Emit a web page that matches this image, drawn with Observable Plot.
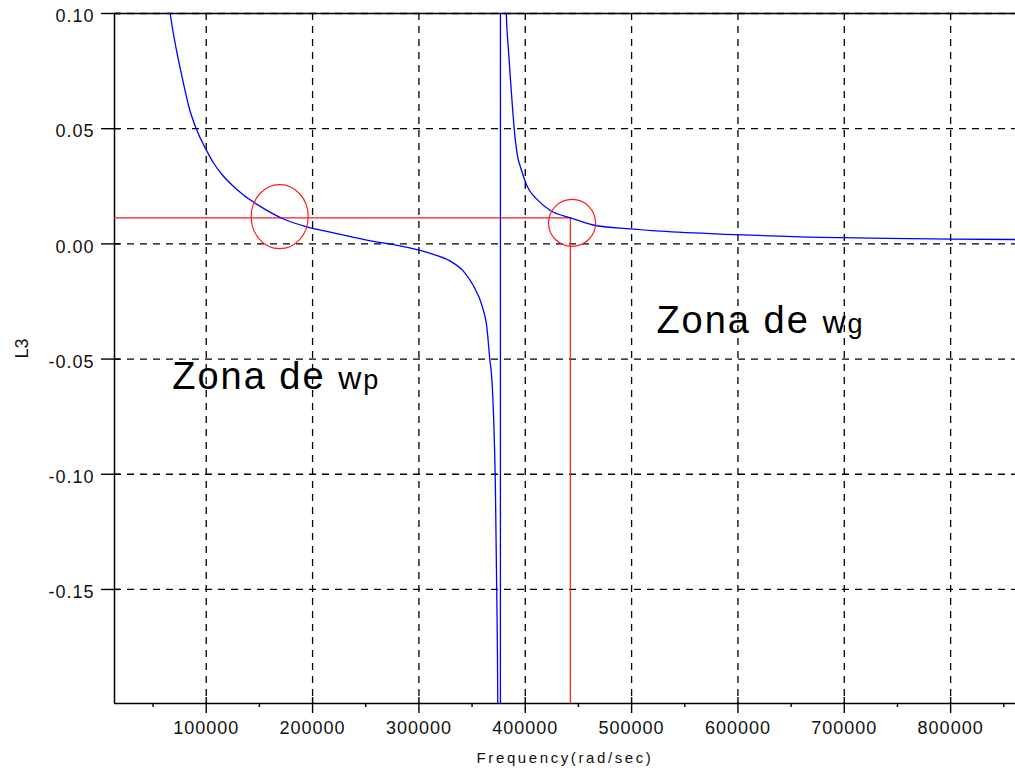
<!DOCTYPE html>
<html>
<head>
<meta charset="utf-8">
<script src="https://cdn.jsdelivr.net/npm/d3@7"></script>
<script src="https://cdn.jsdelivr.net/npm/@observablehq/plot@0.6"></script>
<style>
  html, body { margin: 0; padding: 0; background: #fff; }
  #chart svg { display: block; }
</style>
</head>
<body>
<div id="chart"></div>
<script>
// ---- data ----
const leftFreq  = [60000, 66100, 70800, 78600, 84000, 90600, 100000, 107000, 115000, 125000, 135000, 150000, 172700, 194700, 219800, 257400, 276200, 298200, 310000, 329500, 342000, 351500, 359400, 364100, 366500, 368800, 370300, 371900, 373500, 375000, 376400];
const leftL3    = [0.125, 0.100, 0.087, 0.0697, 0.059, 0.050, 0.0408, 0.0350, 0.0300, 0.0252, 0.0212, 0.0165, 0.0108, 0.0074, 0.0048, 0.0011, -0.0003, -0.0025, -0.0040, -0.0075, -0.0119, -0.0184, -0.0270, -0.0371, -0.0494, -0.0602, -0.0760, -0.1049, -0.1626, -0.26, -2.0];
const rightFreq = [376900, 380000, 382200, 384000, 386800, 389700, 392500, 396300, 401900, 411300, 423600, 442400, 464100, 498900, 527100, 598600, 677600, 740000, 800000, 861000];
const rightL3   = [2.0, 0.16, 0.100, 0.0854, 0.0668, 0.0495, 0.0387, 0.0322, 0.0249, 0.0192, 0.0145, 0.0113, 0.0082, 0.0065, 0.0055, 0.0040, 0.0028, 0.0024, 0.0021, 0.0019];

const xDomain = [13740, 861000];
const yDomain = [-0.1995, 0.10];
const xTicks  = [100000, 200000, 300000, 400000, 500000, 600000, 700000, 800000];
const xMinor  = [50000, 150000, 250000, 350000, 450000, 550000, 650000, 750000, 850000];
const yTicks  = [0.10, 0.05, 0.00, -0.05, -0.10, -0.15];

const markerFreq  = 442400;   // red vertical line
const markerLevel = 0.0113;   // red horizontal line
const circleP = {freq: 169100, value: 0.0118};
const circleG = {freq: 444000, value: 0.0091};

const annotations = [
  {main: "Zona de ", w: "w", sub: "p", freq: 68000,  value: -0.0578},
  {main: "Zona de ", w: "w", sub: "g", freq: 523300, value: -0.0333}
];

const xLabel = "Frequency(rad/sec)";
const yLabel = "L3";

// ---- build table ----
const curve = [
  ...leftFreq.map((f, i) => ({freq: f, L3: leftL3[i]})),
  ...rightFreq.map((f, i) => ({freq: f, L3: rightL3[i]}))
];

const blue = "#0000ff";
const red = "#ff1a1a";
const dash = "7,6";

const svg = Plot.plot({
  width: 1015,
  height: 775,
  marginLeft: 114,
  marginRight: 0,
  marginTop: 13,
  marginBottom: 72,
  style: {fontFamily: "'Liberation Sans', Arial, sans-serif", background: "#fff", color: "#000"},
  x: {domain: xDomain, label: null},
  y: {domain: yDomain, label: null},
  marks: [
    Plot.gridX(xTicks, {stroke: "#000", strokeOpacity: 1, strokeWidth: 1.3, strokeDasharray: dash}),
    Plot.gridY(yTicks, {stroke: "#000", strokeOpacity: 1, strokeWidth: 1.3, strokeDasharray: dash}),
    // frame (left, bottom, top)
    Plot.ruleX([xDomain[0]], {stroke: "#000", strokeWidth: 1.5}),
    Plot.ruleY([yDomain[0], yDomain[1]], {stroke: "#000", strokeWidth: 1.5}),
    // ticks crossing the axes
    Plot.axisX({ticks: xTicks, tickSize: 16, dy: -6, tickFormat: () => "", stroke: "#000", strokeWidth: 1.4}),
    Plot.axisX({ticks: xMinor, tickSize: 4, tickFormat: () => "", stroke: "#000", strokeWidth: 1.4}),
    Plot.axisX({ticks: xTicks, tickSize: 0, tickPadding: 18, tickFormat: d => String(d), fontSize: 18, fill: "#111"}),
    Plot.axisY({ticks: yTicks, tickSize: 19, dx: 6, tickFormat: () => "", stroke: "#000", strokeWidth: 1.4}),
    Plot.axisY({ticks: yTicks, tickSize: 0, tickPadding: 20, dy: 3, tickFormat: d => d.toFixed(2), fontSize: 18, fill: "#111"}),
    // red marker lines
    Plot.ruleY([markerLevel], {x1: xDomain[0], x2: markerFreq, stroke: red, strokeWidth: 1.2}),
    Plot.ruleX([markerFreq], {y1: yDomain[0], y2: markerLevel, stroke: red, strokeWidth: 1.2}),
    // curve
    Plot.line(curve, {x: "freq", y: "L3", stroke: blue, strokeWidth: 1.3, curve: "monotone-x", clip: true}),
    // circles
    Plot.dot([circleP], {x: "freq", y: "value", r: 30, stroke: red, strokeWidth: 1.2, fill: "none"}),
    Plot.dot([circleG], {x: "freq", y: "value", r: 23.5, stroke: red, strokeWidth: 1.2, fill: "none"}),
    // annotations
    Plot.text(annotations, {x: "freq", y: "value", text: d => d.main + d.w + d.sub, textAnchor: "start", fontSize: 38, fill: "#000"}),
    // axis titles
    Plot.text([xLabel], {frameAnchor: "bottom", dy: 59, fontSize: 15, fill: "#111"}),
    Plot.text([yLabel], {frameAnchor: "left", dx: -92, rotate: -90, fontSize: 18, fill: "#111"})
  ]
});

// letter spacing for the bitmap-like axis fonts
svg.querySelectorAll('g[aria-label="x-axis tick label"] text, g[aria-label="y-axis tick label"] text').forEach(t => t.setAttribute("letter-spacing", "1"));

// the first circle is drawn slightly taller than wide in the reference
const firstDot = svg.querySelector('g[aria-label="dot"] circle');
if (firstDot) {
  const cx = +firstDot.getAttribute("cx"), cy = +firstDot.getAttribute("cy");
  if (isFinite(cx) && isFinite(cy)) {
    firstDot.setAttribute("transform", `translate(${cx},${cy}) scale(0.95,1.067) translate(${-cx},${-cy})`);
  }
}

// rich annotation text: smaller "w" and subscript letter
svg.querySelectorAll('g[aria-label="text"] text').forEach(t => {
  const s = t.textContent;
  const a = annotations.find(d => d.main + d.w + d.sub === s);
  if (s === xLabel) t.setAttribute("letter-spacing", "2.6");
  if (!a) return;
  t.setAttribute("letter-spacing", "2");
  t.textContent = "";
  const ns = "http://www.w3.org/2000/svg";
  const t0 = document.createElementNS(ns, "tspan"); t0.textContent = a.main; t.appendChild(t0);
  const t1 = document.createElementNS(ns, "tspan"); t1.textContent = a.w; t1.setAttribute("font-size", "32"); t.appendChild(t1);
  const t2 = document.createElementNS(ns, "tspan"); t2.textContent = a.sub; t2.setAttribute("font-size", "27"); t.appendChild(t2);
});

document.getElementById("chart").appendChild(svg);
</script>
</body>
</html>
